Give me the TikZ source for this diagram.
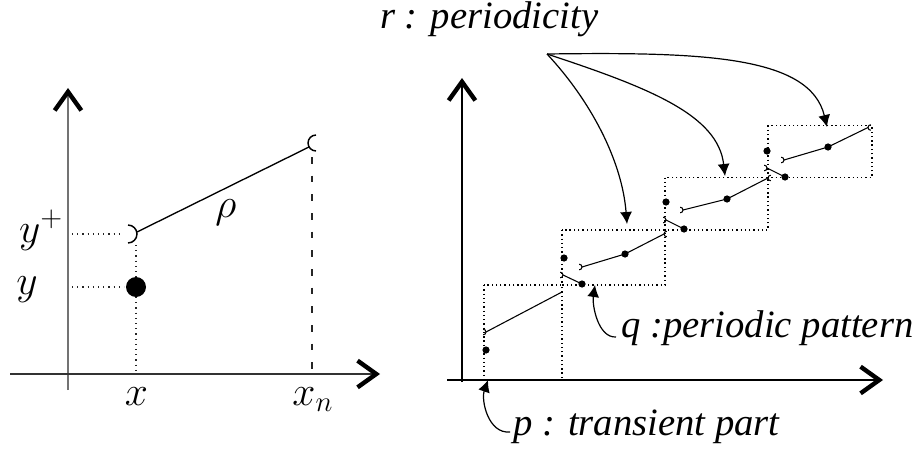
\documentclass[tikz,border=0pt]{standalone}
\usepackage{fontspec}
\newfontfamily\lblfont{Liberation Serif Italic}
\usetikzlibrary{arrows.meta}
\tikzset{
  pics/openl/.style={code={\draw (-#1,#1) arc[start angle=90,end angle=-90,radius=#1];}},
  pics/openr/.style={code={\draw (#1,#1) arc[start angle=90,end angle=270,radius=#1];}}
}
\begin{document}
\begin{tikzpicture}[x=0.75pt,y=-0.75pt,
  chev/.style={-{Straight Barb[length=14pt,width=20pt,line width=3.3pt,color=black]}},
  leftyaxis/.style={line width=1.1pt,black!55},
  leftxaxis/.style={line width=1.1pt,black!80},
  rightaxis/.style={line width=1.1pt,black},
  guide/.style={line width=0.9pt,black!85,dash pattern=on 0.9pt off 3pt},
  dashguide/.style={line width=0.9pt,black!85,dash pattern=on 5pt off 9pt},
  boxline/.style={line width=1pt,black,dash pattern=on 1pt off 2.2pt},
  fline/.style={line width=0.8pt,black},
  pointer/.style={line width=0.9pt,black,-{Latex[length=9pt,width=9pt]}},
  txt/.style={inner sep=0pt,font=\lblfont\fontsize{29pt}{34pt}\selectfont},
  mtxt/.style={inner sep=0pt,font=\LARGE,scale=1.8}
]
\useasboundingbox (0,0) rectangle (923,449);

% ---------------- left diagram ----------------
\coordinate (LyB) at (68,390); \coordinate (LyT) at (68,88);
\coordinate (LxL) at (10,374); \coordinate (LxR) at (380,374);
\draw[leftyaxis,chev] (LyB) -- (LyT);
\draw[leftxaxis,chev] (LxL) -- (LxR);

\coordinate (P) at (136,287);
\coordinate (Q) at (137,234);
\coordinate (R) at (308,143);
\coordinate (Qs) at (137,232);
\coordinate (Re) at (309,147);

\draw[guide] (72,234) -- (122,234);
\draw[guide] (72,287) -- (124,287);
\draw[guide] (136,245) -- (136,374);
\draw[dashguide] (312,157) -- (312,374);
\fill (P) circle[radius=7.5pt];
\pic[line width=1.1pt] at (Q) {openl=6.75pt};
\pic[line width=1.1pt] at (R) {openr=6pt};
\draw[line width=1pt] (Qs) -- (Re);

\node[mtxt,anchor=base] (xl) at (136.5,405) {$x$};
\node[mtxt,anchor=base] (xnl) at (313,405) {$x_n$};
\node[mtxt,anchor=base east] (ypl) at (64,242) {$y^+$};
\node[mtxt,anchor=base west] (yl) at (16,294) {$y$};
\node[mtxt,anchor=base west] (rho) at (215,217) {$\rho$};

% ---------------- right diagram ----------------
\draw[rightaxis,chev] (462,382) -- (462,78);
\draw[rightaxis,chev] (447,380) -- (883,380);

\draw[boxline] (484,285) rectangle (562,380);
\draw[boxline] (562,230) rectangle (665,285);
\draw[boxline] (665,177.5) rectangle (768,230);
\draw[boxline] (768,125.5) rectangle (872,177.5);

% transient part
\coordinate (d1) at (486,350);
\coordinate (m1) at (486,332);
\coordinate (g1) at (562,292);
\fill (d1) circle[radius=2.7pt];
\pic[line width=0.8pt] at (m1) {openl=2.1pt};
\draw[fline] (m1) -- (g1);

% period 1
\coordinate (s2a) at (563,275); \coordinate (s2b) at (582,284);
\coordinate (d2) at (564,258);
\coordinate (m2) at (582,267); \coordinate (e2) at (625,254); \coordinate (f2) at (664,234);
% period 2
\coordinate (s3a) at (666,220); \coordinate (s3b) at (684,229);
\coordinate (d3) at (666,202);
\coordinate (m3) at (683,210); \coordinate (e3) at (727,199); \coordinate (f3) at (768,178);
% period 3
\coordinate (s4a) at (767,168); \coordinate (s4b) at (785,177);
\coordinate (d4) at (767,151);
\coordinate (m4) at (784,160); \coordinate (e4) at (828,147); \coordinate (f4) at (868,127.5);

\foreach \k in {2,3,4}{
  \draw[fline] (s\k a) -- (s\k b);
  \draw[fline] (m\k) -- (e\k) -- (f\k);
  \pic[line width=0.8pt] at (s\k a) {openl=2.1pt};
  \pic[line width=0.8pt] at (m\k) {openl=2.1pt};
  \pic[line width=0.8pt] at (f\k) {openr=2.1pt};
  \fill (s\k b) circle[radius=2.7pt];
  \fill (d\k) circle[radius=2.7pt];
  \fill (e\k) circle[radius=2.7pt];
}

% labels
\node[txt,anchor=base west] (rlab) at (380,29) {r : periodicity};
\node[txt,anchor=base west] (qlab) at (621,337) {q :periodic pattern};
\node[txt,anchor=base west] (plab) at (513,435) {p : transient part};

% pointers
\coordinate (rsrc) at (547,54);
\coordinate (t2) at (627,224);
\coordinate (t3) at (725,176);
\coordinate (t4) at (827,127);
\draw[pointer] (rsrc) .. controls (590,100) and (622,160) .. (t2);
\draw[pointer] (rsrc) .. controls (650,88) and (718,115) .. (t3);
\draw[pointer] (rsrc) .. controls (700,52) and (810,55) .. (t4);

\coordinate (qs) at (616,337);
\coordinate (qt) at (595,285);
\draw[pointer] (qs) .. controls (598,338) and (592,305) .. (qt);

\coordinate (ps) at (510,432);
\coordinate (pt) at (488,380);
\draw[pointer] (ps) .. controls (488,434) and (481,400) .. (pt);
\end{tikzpicture}
\end{document}
